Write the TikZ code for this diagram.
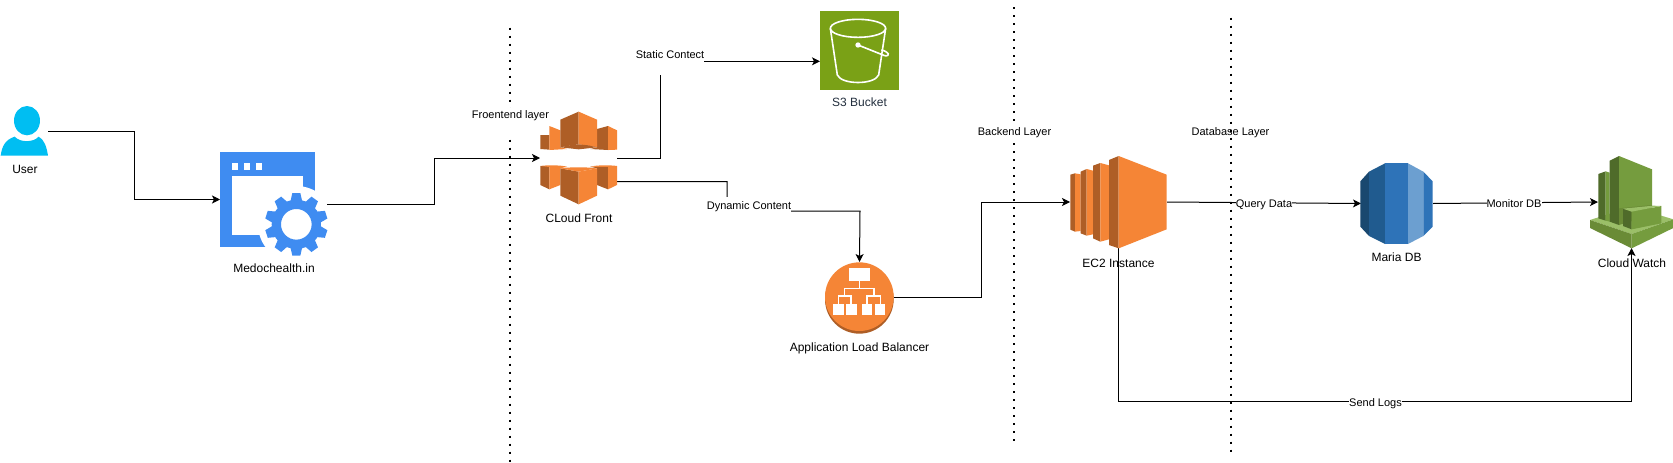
\documentclass[tikz,border=0pt]{standalone}
\usepackage{fontspec}
\setmainfont{Liberation Sans}
\usetikzlibrary{arrows.meta}
\definecolor{awsorange}{HTML}{F58536}
\definecolor{awsdark}{HTML}{AE5E26}
\definecolor{sitefill}{HTML}{3F8CF1}
\definecolor{userfill}{HTML}{00BEF2}
\definecolor{sthree}{HTML}{7AA116}
\definecolor{slabel}{HTML}{232F3E}
\definecolor{rdsa}{HTML}{19486F}
\definecolor{rdsb}{HTML}{205B8F}
\definecolor{rdsc}{HTML}{2E73B8}
\definecolor{rdsd}{HTML}{6C9FD0}
\definecolor{cwlight}{HTML}{759C3E}
\definecolor{cwdark}{HTML}{4F6B2A}
\definecolor{cwtop}{HTML}{9BBF68}
\definecolor{cwside}{HTML}{6A8B36}
\tikzset{
  iconbox/.style={inner sep=0pt,outer sep=0pt,draw=none},
  conn/.style={draw=black,line width=1pt},
  arr/.style={conn,-{Stealth[length=8pt,width=8pt,inset=2pt]}},
  sep/.style={draw=black,line width=2pt,dash pattern=on 2pt off 6pt},
  iconlabel/.style={inner sep=0pt,font=\fontsize{12}{14}\selectfont,text height=10.6pt,text depth=2.4pt},
  smalllabel/.style={inner sep=0pt,font=\fontsize{11}{13}\selectfont,text height=11.4pt,text depth=2.2pt},
  edgelabel/.style={smalllabel,fill=white},
  icon/.style={shift={#1},scale=1/3}
}
\begin{document}
\begin{tikzpicture}[x=1pt,y=-1pt]
\useasboundingbox[fill=white] (0,0) rectangle (1673,463);

% layer separators
\coordinate (sepAtop) at (510,27.5);   \coordinate (sepAbot) at (510,463);
\coordinate (sepBtop) at (1014.3,7);   \coordinate (sepBbot) at (1014.3,442);
\coordinate (sepCtop) at (1230.7,17.5);\coordinate (sepCbot) at (1230.7,452);
\draw[sep] (sepAtop) -- (sepAbot);
\draw[sep] (sepBtop) -- (sepBbot);
\draw[sep] (sepCtop) -- (sepCbot);

% layer labels
\node[edgelabel,minimum height=29pt] (lfront) at (510.5,122) {\raisebox{8pt}{Froentend layer}};
\node[edgelabel,minimum height=15pt] (lback) at (1014.5,131) {Backend Layer};
\node[smalllabel] (ldb) at (1230.5,131) {Database Layer};

% icon anchor nodes
\node[iconbox,minimum width=48pt,minimum height=50pt] (user) at (24,131) {};
\node[iconbox,minimum width=95pt,minimum height=95pt] (site) at (267.5,199.5) {};
\node[iconbox,minimum width=77pt,minimum height=92pt] (cf) at (578.5,158) {};
\node[iconbox,minimum width=79pt,minimum height=79pt] (s3) at (859.5,50.5) {};
\node[iconbox,minimum width=69pt,minimum height=71pt] (alb) at (859.5,297.5) {};
\node[iconbox,minimum width=97pt,minimum height=92pt] (ec2) at (1118.5,202) {};
\node[iconbox,minimum width=73pt,minimum height=81pt] (rds) at (1396.5,203.5) {};
\node[iconbox,minimum width=83pt,minimum height=92pt] (cw) at (1631.5,202) {};

% site
\begin{scope}[icon={(0,90)}]
  \fill[sitefill] (660,186) rectangle (945,470);
  \fill[white] (696,257) rectangle (910,436);
  \fill[white] (696,220) rectangle (714,240);
  \fill[white] (732,220) rectangle (750,240);
  \fill[white] (768,220) rectangle (786,240);
  \fill[white] (889,403) circle[radius=115];
  \foreach \a in {0,36,...,324}
    \fill[sitefill,rotate around={\a:(889,403)}] (877,309) -- (901,309) -- (908,340) -- (870,340) -- cycle;
  \fill[sitefill,even odd rule] (889,403) circle[radius=74] (889,403) circle[radius=46];
\end{scope}

% connectors
\draw[arr] (user.east) -- ++(86,0) |- (site.west);
\draw[arr] ([xshift=12pt,yshift=-4.5pt]site.east) -- ++(107,0) |- (cf.west);
\draw[arr] (cf.east) -- ++(43.5,0) |- ([yshift=-10.8pt]s3.west);
\draw[arr] ([yshift=-23.5pt]cf.east) -- ++(110,0) |- ++(133,29.5) -- (alb.north);
\draw[arr] (alb.east) -- ++(87,0) |- (ec2.west);
\draw[arr] (ec2.east) -- ([xshift=1pt]rds.west);
\draw[arr] (rds.east) -- ([xshift=8pt]cw.west);
\draw[arr] (ec2.south) -- ++(0,153.5) -| (cw.south);

% connector labels
\node[edgelabel,minimum height=42pt] (lstatic) at (670,54) {Static Contect};
\node[edgelabel,minimum height=14.5pt] (ldyn) at (749,204.7) {Dynamic Content};
\node[edgelabel] (lquery) at (1264,203) {Query Data};
\node[edgelabel] (lmon) at (1514,202.5) {Monitor DB};
\node[edgelabel] (lsend) at (1375.5,401.5) {Send Logs};

% user
\begin{scope}[icon={(0,90)}]
  \fill[userfill] (81,92) ellipse[x radius=39,y radius=44];
  \fill[userfill] (2,197) .. controls (6,170) and (14,150) .. (44,140)
    .. controls (60,158) and (100,158) .. (116,140)
    .. controls (132,148) and (140,170) .. (144,197) -- cycle;
\end{scope}

% cloudfront
\begin{scope}[icon={(530,105)}]
  \fill[awsdark] (31,90) -- (58,90) -- (58,134) -- (31,132) -- cycle;
  \fill[awsorange] (58,63) -- (91,76) -- (91,127) -- (111,132) -- (58,135) -- cycle;
  \fill[awsdark] (201,72) -- (234,63) -- (234,135) -- (181,132) -- (201,127) -- cycle;
  \fill[awsorange] (234,63) -- (261,76) -- (261,134) -- (234,135) -- cycle;
  \fill[awsdark] (91,44) -- (146,20) -- (146,118) -- (118,122) -- (91,127) -- cycle;
  \fill[awsorange] (146,20) -- (201,44) -- (201,127) -- (175,122) -- (146,118) -- cycle;
  \fill[awsdark] (91,127) -- (118,121) -- (146,118) -- (175,121) -- (201,127) -- (146,133) -- cycle;
  \fill[awsdark] (31,183) -- (58,183) -- (58,253) -- (31,240) -- cycle;
  \fill[awsorange] (31,183) .. controls (50,180) and (90,180) .. (111,185) -- (91,190) -- (91,240) -- (58,253) -- (58,186) -- (31,183) -- cycle;
  \fill[awsdark] (181,185) -- (234,183) -- (234,253) -- (201,240) -- (201,190) -- cycle;
  \fill[awsorange] (181,185) .. controls (200,180) and (240,180) .. (261,183) -- (261,240) -- (234,253) -- (234,186) -- cycle;
  \fill[awsdark] (91,190) -- (146,200) -- (146,298) -- (91,272) -- cycle;
  \fill[awsorange] (146,200) -- (201,190) -- (201,272) -- (146,298) -- cycle;
  \fill[awsorange] (91,190) .. controls (110,186) and (180,186) .. (201,190) -- (146,200) -- cycle;
\end{scope}

% s3
\begin{scope}[icon={(450,0)}]
  \fill[sthree] (1110,34) rectangle (1347,269);
  \begin{scope}[draw=white,line width=1.6pt]
    \draw (1224,85) ellipse[x radius=83,y radius=27];
    \draw (1141,85) -- (1162,225) .. controls (1175,255) and (1273,255) .. (1286,225) -- (1307,85);
    \draw (1224,135) -- (1304,167) .. controls (1322,170) and (1318,155) .. (1294,150);
  \end{scope}
  \fill[white] (1224,135) circle[radius=8];
\end{scope}

% alb
\begin{scope}[icon={(770,240)}]
  \fill[awsdark] (268,178) circle[radius=103];
  \fill[awsorange] (268,170) circle[radius=103];
  \fill[white] (237,85) rectangle (299,123);
  \fill[white] (190,192) rectangle (221,224);
  \fill[white] (229,192) rectangle (260,224);
  \fill[white] (276,192) rectangle (307,224);
  \fill[white] (315,192) rectangle (346,224);
  \draw[white,line width=1.2pt] (268,123) -- (268,145) (224,168) -- (224,145) -- (312,145) -- (312,168)
    (205,192) -- (205,168) -- (243,168) -- (243,192)
    (291,192) -- (291,168) -- (331,168) -- (331,192);
\end{scope}

% ec2
\begin{scope}[icon={(1050,130)}]
  \fill[awsdark] (61,134) -- (75,130) -- (75,305) -- (61,299) -- cycle;
  \fill[awsorange] (75,130) -- (92,133) -- (92,303) -- (75,305) -- cycle;
  \fill[awsdark] (92,125) -- (110,117) -- (110,317) -- (92,310) -- cycle;
  \fill[awsorange] (110,117) -- (129,122) -- (129,313) -- (110,317) -- cycle;
  \fill[awsdark] (129,107) -- (151,99) -- (151,335) -- (129,325) -- cycle;
  \fill[awsorange] (151,99) -- (177,106) -- (177,328) -- (151,335) -- cycle;
  \fill[awsdark] (177,90) -- (206,78) -- (206,355) -- (177,345) -- cycle;
  \fill[awsorange] (206,78) -- (350,134) -- (350,298) -- (206,355) -- cycle;
\end{scope}

% rds
\begin{scope}[icon={(1340,140)}]
  \fill[rdsa] (61,124) -- (87,95) -- (87,288) -- (61,260) -- cycle;
  \fill[rdsb] (87,95) -- (135,70) -- (135,312) -- (87,288) -- cycle;
  \fill[rdsc] (135,70) -- (204,70) -- (204,312) -- (135,312) -- cycle;
  \fill[rdsd] (204,70) -- (250,95) -- (250,288) -- (204,312) -- cycle;
  \fill[rdsc] (250,95) -- (278,124) -- (278,260) -- (250,288) -- cycle;
\end{scope}

% cloudwatch
\begin{scope}[icon={(1560,140)}]
  \fill[cwtop] (90,240) -- (215,200) -- (340,238) -- (215,282) -- cycle;
  \fill[cwside] (90,240) -- (215,282) -- (215,325) -- (90,264) -- cycle;
  \fill[cwlight] (215,282) -- (340,238) -- (340,264) -- (215,325) -- cycle;
  \fill[cwdark] (115,102) -- (137,94) -- (137,242) -- (115,235) -- cycle;
  \fill[cwlight] (137,94) -- (149,98) -- (149,245) -- (137,242) -- cycle;
  \fill[cwdark] (149,62) -- (177,48) -- (177,255) -- (149,245) -- cycle;
  \fill[cwlight] (177,48) -- (276,88) -- (276,200) -- (177,240) -- cycle;
  \fill[cwside] (177,205) -- (276,195) -- (276,225) -- (177,255) -- cycle;
  \fill[cwdark] (189,206) -- (215,215) -- (215,268) -- (189,258) -- cycle;
  \fill[cwlight] (215,215) -- (304,198) -- (304,250) -- (215,268) -- cycle;
  \fill[cwtop] (189,206) -- (280,197) -- (304,198) -- (215,215) -- cycle;
\end{scope}

% icon labels
\node[iconlabel] (tuser) at (25,169) {User};
\node[iconlabel] (tsite) at (274,268.5) {Medochealth.in};
\node[iconlabel] (tcf) at (579,218) {CLoud Front};
\node[iconlabel,text=slabel] (ts3) at (859.5,102.5) {S3 Bucket};
\node[iconlabel] (talb) at (859.5,347) {Application Load Balancer};
\node[iconlabel] (tec2) at (1118.5,263) {EC2 Instance};
\node[iconlabel] (trds) at (1396.5,257.5) {Maria DB};
\node[iconlabel] (tcw) at (1632,263) {Cloud Watch};
\end{tikzpicture}
\end{document}
